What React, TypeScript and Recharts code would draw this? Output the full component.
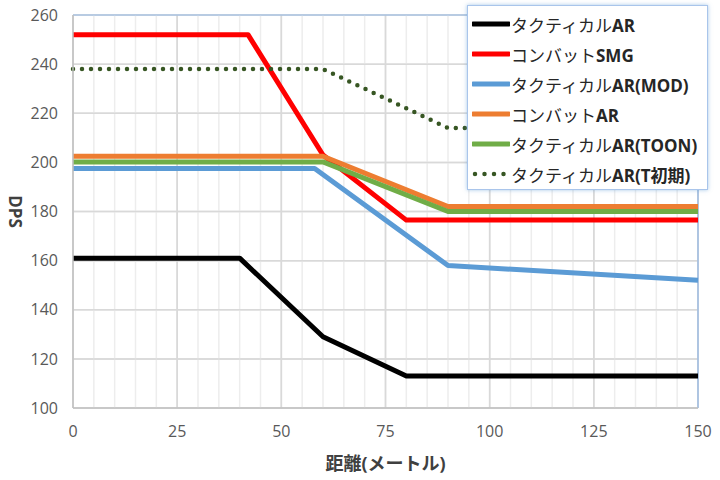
import React from 'react';
import { LineChart, Line, XAxis, YAxis, CartesianGrid, ReferenceLine, Legend } from 'recharts';

// distances (m) and DPS values
const tacArX = [0, 40, 60, 80, 150];
const tacArY = [161, 161, 129, 113, 113];
const combatSmgX = [0, 42, 60, 80, 150];
const combatSmgY = [252, 252, 203, 176.5, 176.5];
const tacModX = [0, 58, 90, 150];
const tacModY = [197.5, 197.5, 158, 152];
const combatArX = [0, 60, 90, 150];
const combatArY = [202.5, 202.5, 182, 182];
const tacToonX = [0, 60, 90, 150];
const tacToonY = [200.2, 200.2, 180, 180];
const tacEarlyX = [0, 60, 90, 150];
const tacEarlyY = [238, 238, 214, 214];

const xTicks = [0, 25, 50, 75, 100, 125, 150];
const xMinorTicks = [5, 10, 15, 20, 30, 35, 40, 45, 55, 60, 65, 70, 80, 85, 90, 95, 105, 110, 115, 120, 130, 135, 140, 145];
const yTicks = [100, 120, 140, 160, 180, 200, 220, 240, 260];

const zip = (xs: number[], ys: number[]) => xs.map((x, i) => ({ x, y: ys[i] }));

const series = [
  { name: 'タクティカルAR', color: '#000000', data: zip(tacArX, tacArY) },
  { name: 'コンバットSMG', color: '#ff0000', data: zip(combatSmgX, combatSmgY) },
  { name: 'タクティカルAR(MOD)', color: '#5b9bd5', data: zip(tacModX, tacModY) },
  { name: 'コンバットAR', color: '#ed7d31', data: zip(combatArX, combatArY) },
  { name: 'タクティカルAR(TOON)', color: '#70ad47', data: zip(tacToonX, tacToonY) },
  { name: 'タクティカルAR(T初期)', color: '#375623', data: zip(tacEarlyX, tacEarlyY), dotted: true },
];

const FONT = "'Open Sans', 'Noto Sans CJK JP', sans-serif";

// kana in normal weight, latin/kanji bold, like the Excel legend
function LegendText({ text }: { text: string }) {
  const parts = text.split(/([\u30A0-\u30FF]+)/).filter(Boolean);
  return (
    <span>
      {parts.map((p, i) => (
        <span key={i} style={{ fontWeight: /[\u30A0-\u30FF]/.test(p) ? 400 : 700 }}>{p}</span>
      ))}
    </span>
  );
}

function renderLegend() {
  return (
    <div
      style={{
        width: 241,
        height: 185,
        boxSizing: 'border-box',
        background: '#ffffff',
        border: '1px solid #a9c5eb',
        boxShadow: '0 0 4px rgba(91,155,213,0.55)',
        paddingTop: 3,
        paddingLeft: 4,
        fontFamily: FONT,
        fontSize: 17,
        color: '#262626',
        whiteSpace: 'nowrap',
      }}
    >
      {series.map((s) => (
        <div key={s.name} style={{ display: 'flex', alignItems: 'center', height: 30 }}>
          <svg width={38} height={10} style={{ marginRight: 1, flexShrink: 0 }}>
            {s.dotted ? (
              <line x1={3} x2={36} y1={5} y2={5} stroke={s.color} strokeWidth={4.5} strokeDasharray="0 9.5" strokeLinecap="round" />
            ) : (
              <line x1={1} x2={37} y1={5} y2={5} stroke={s.color} strokeWidth={5} strokeLinecap="round" />
            )}
          </svg>
          <LegendText text={s.name} />
        </div>
      ))}
    </div>
  );
}

export default function App() {
  return (
    <div style={{ position: 'absolute', left: 0, top: 0, width: 720, height: 480, background: '#ffffff' }}>
      <LineChart width={720} height={480} margin={{ top: 15, right: 22, bottom: 0, left: 0 }}>
        <CartesianGrid stroke="#d9d9d9" strokeWidth={1.5} />
        {xMinorTicks.map((v) => (
          <ReferenceLine key={v} x={v} stroke="#ededed" strokeWidth={1.5} />
        ))}
        {xTicks.slice(1, -1).map((v) => (
          <ReferenceLine key={'M' + v} x={v} stroke="#d9d9d9" strokeWidth={1.5} />
        ))}
        {yTicks.slice(1, -1).map((v) => (
          <ReferenceLine key={'H' + v} y={v} stroke="#d9d9d9" strokeWidth={1.5} />
        ))}
        <ReferenceLine y={260} stroke="#8db3e2" strokeWidth={1.2} />
        <ReferenceLine x={150} stroke="#8db3e2" strokeWidth={1.2} />
        <XAxis
          dataKey="x"
          type="number"
          domain={[0, 150]}
          ticks={xTicks}
          height={72}
          tickLine={false}
          tickSize={0}
          tickMargin={18}
          axisLine={{ stroke: '#bfbfbf', strokeWidth: 1.5 }}
          tick={{ fill: '#595959', fontSize: 16, fontFamily: FONT }}
          label={{ value: '距離(メートル)', position: 'insideBottom', offset: 10, fill: '#404040', fontSize: 18, fontWeight: 700, fontFamily: FONT }}
        />
        <YAxis
          type="number"
          domain={[100, 260]}
          ticks={yTicks}
          width={73}
          tickLine={false}
          tickSize={0}
          tickMargin={15}
          axisLine={{ stroke: '#bfbfbf', strokeWidth: 1.5 }}
          tick={{ fill: '#595959', fontSize: 16, fontFamily: FONT }}
          label={{
            content: ({ viewBox }: any) => {
              const cy = viewBox.y + viewBox.height / 2;
              return (
                <text x={15} y={cy} transform={`rotate(90 15 ${cy})`} textAnchor="middle" dominantBaseline="central" fill="#404040" fontSize={17} fontWeight={700} fontFamily={FONT}>
                  DPS
                </text>
              );
            },
          }}
        />
        {series.map((s) => (
          <Line
            key={s.name}
            data={s.data}
            dataKey="y"
            name={s.name}
            type="linear"
            stroke={s.color}
            strokeWidth={s.dotted ? 4.5 : 5}
            strokeDasharray={s.dotted ? '0 9' : undefined}
            strokeLinecap={s.dotted ? 'round' : 'butt'}
            strokeLinejoin="round"
            dot={false}
            activeDot={false}
            isAnimationActive={false}
          />
        ))}
        <Legend
          layout="vertical"
          align="center"
          verticalAlign="middle"
          content={renderLegend}
          wrapperStyle={{ left: 467, top: 5, width: 241, height: 185 }}
        />
      </LineChart>
    </div>
  );
}
